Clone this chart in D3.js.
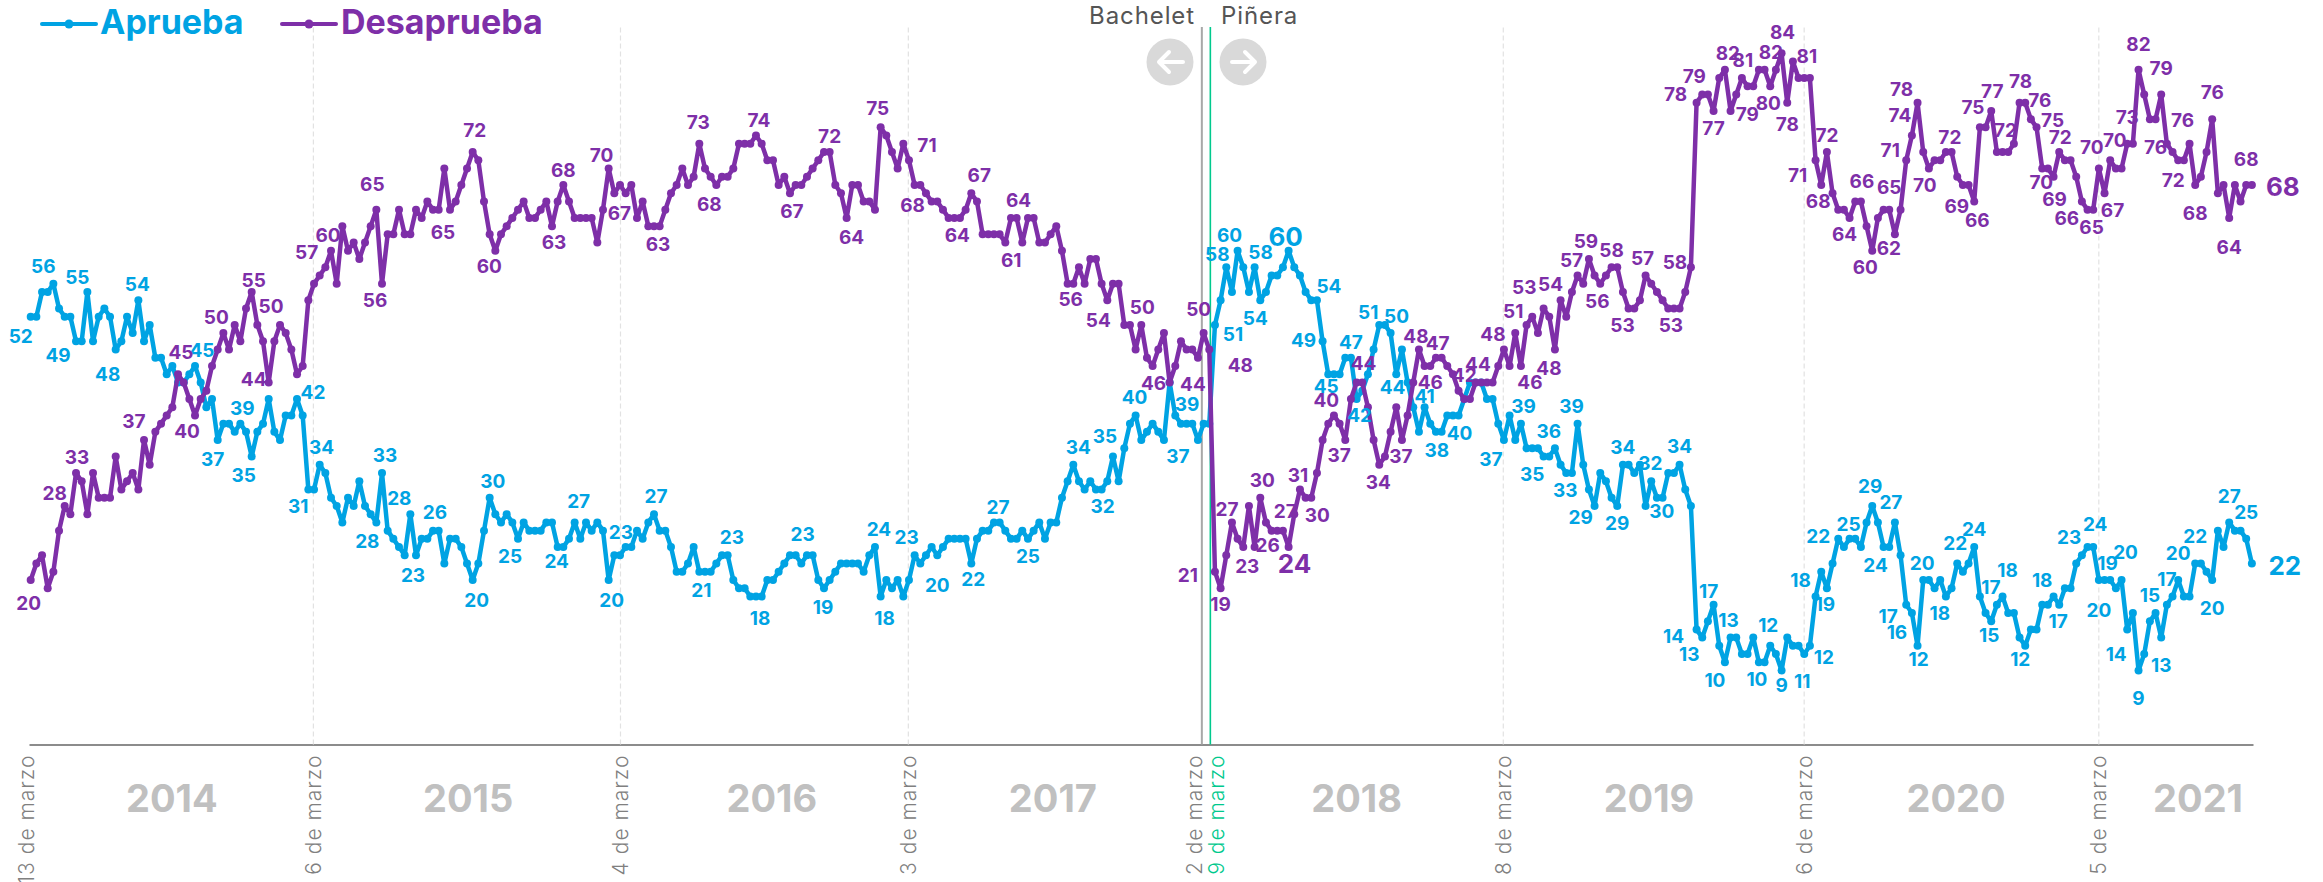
<!DOCTYPE html>
<html>
<head>
<meta charset="utf-8">
<script src="https://cdn.jsdelivr.net/npm/d3@7"></script>
<style>
  html, body { margin: 0; padding: 0; background: #fff; overflow: hidden; }
  text { font-family: Inter, "Open Sans", sans-serif; }
</style>
</head>
<body>
<script>
// weekly poll, one value per week (13 marzo 2014 -> 2021)
var aprueba = [
  52,52,55,55,56,53,52,52,49,49, 55,49,52,53,52,48,49,52,50,54,
  49,51,47,47,45,46,44,44,45,46, 44,41,42,37,39,39,38,39,38,35,
  38,39,42,38,37,40,40,42,40,31, 31,34,33,30,29,27,30,29,32,29,
  28,27,33,26,25,24,23,28,23,25, 25,26,26,22,25,25,24,22,20,22,
  26,30,28,27,28,27,25,27,26,26, 26,27,27,24,24,25,27,25,27,26,
  27,26,20,23,23,24,24,26,25,27, 28,26,26,24,21,21,22,24,21,21,
  21,22,23,23,20,19,19,18,18,18, 20,20,21,22,23,23,22,23,23,20,
  19,20,21,22,22,22,22,21,23,24, 18,20,19,20,18,20,23,22,23,24,
  23,24,25,25,25,25,22,25,26,26, 27,27,26,25,25,26,25,26,27,25,
  27,27,30,32,34,32,31,32,31,31, 32,35,32,36,39,40,37,38,39,38,
  37,44,40,39,39,39,37,39,39,51, 54,58,55,60,58,55,58,54,55,57,
  57,58,60,58,57,55,54,54,49,45, 45,45,47,47,42,43,45,48,51,51,
  50,45,48,44,41,38,41,39,38,38, 40,40,40,42,44,44,44,42,42,39,
  37,40,37,39,36,36,36,35,35,36, 34,33,33,39,34,31,29,33,32,30,
  29,34,34,33,34,29,32,30,30,33, 33,34,31,29,14,13,15,17,12,10,
  13,13,11,11,13,10,10,12,11,9, 13,12,12,11,12,18,21,19,22,25,
  24,25,25,24,27,29,27,24,24,27, 23,17,16,12,20,20,19,20,18,19,
  22,21,22,24,18,16,15,17,18,16, 16,13,12,14,14,17,17,18,17,19,
  19,22,23,24,24,20,20,20,19,20, 14,16,9,11,15,16,13,17,18,20,
  18,18,22,22,21,20,26,24,27,26, 26,25,22
]

var desaprueba = [
  20,22,23,19,21,26,29,28,33,32, 28,33,30,30,30,35,31,32,33,31,
  37,34,38,39,40,41,45,44,42,40, 42,43,46,48,50,48,51,49,53,55,
  51,49,44,49,51,50,48,45,46,54, 56,57,58,60,56,63,60,61,59,61,
  63,65,56,62,62,65,62,62,65,64, 66,65,65,70,65,66,68,70,72,71,
  66,62,60,62,63,64,65,66,64,64, 65,66,63,66,68,66,64,64,64,64,
  61,65,70,67,68,67,68,64,66,63, 63,63,65,67,68,70,68,69,73,70,
  69,68,69,69,70,73,73,73,74,73, 71,71,68,69,67,68,68,69,70,71,
  72,72,68,67,64,68,68,66,66,65, 75,74,72,70,73,71,68,68,67,66,
  66,65,64,64,64,65,67,66,62,62, 62,62,61,64,64,61,64,64,61,61,
  62,63,60,56,56,58,56,59,59,56, 54,56,56,51,51,48,51,47,46,48,
  50,44,46,49,48,48,47,50,48,21, 19,23,27,25,24,29,24,30,27,26,
  26,26,24,28,31,30,30,33,37,39, 40,39,37,42,44,44,41,37,34,35,
  38,41,37,40,44,48,46,46,47,47, 46,45,43,42,42,44,44,44,44,46,
  48,46,50,46,51,52,50,53,52,48, 54,52,55,57,56,59,57,56,57,58,
  58,55,53,53,54,57,56,55,54,53, 53,53,55,58,78,79,79,77,81,82,
  77,79,81,80,80,82,82,80,82,84, 78,83,81,81,81,71,68,72,67,65,
  65,64,66,66,63,60,64,65,65,62, 65,71,74,78,72,70,71,71,72,72,
  69,68,68,66,75,75,77,72,72,72, 73,78,78,76,75,70,70,69,72,71,
  71,69,66,65,65,70,67,71,70,70, 73,73,82,79,76,76,79,73,72,71,
  71,73,68,69,72,76,67,68,64,68, 66,68,68
]

// week index of each printed number, and the number as printed
var aprLabelWeek = [0,4,10,8,15,19,29,33,39,37,47,51,49,62,61,67,68,
  71,78,81,86,93,96,104,102,110,118,122,128,135,
  140,149,150,156,160,166,170,176,184,189,191,195,203,200,
  211,213,209,217,216,222,227,228,229,233,234,238,240,243,246,248,252,260,261,
  265,269,271,273,276,280,281,286,287,291,294,295,297,300,299,305,307,309,313,314,315,317,319,321,327,325,329,331,332,
  333,334,338,340,343,344,346,348,352,355,358,361,364,366,369,365,370,372,376,374,377,379,382,385,388,391,392]
var aprLabelText = [52,56,55,49,48,54,45,37,35,39,42,34,31,33,28,28,23,
  26,20,30,25,24,27,23,20,27,21,23,18,23,
  19,24,18,23,20,22,27,25,34,32,35,40,39,37,
  58,60,51,54,58,60,54,49,45,47,42,51,50,44,41,38,40,37,39,
  35,36,33,39,29,29,34,32,30,34,14,13,17,13,10,10,12,9,11,12,18,19,22,25,24,29,27,17,16,
  12,20,18,22,24,17,15,18,12,18,17,23,24,19,20,20,14,9,13,15,17,20,22,20,27,25,22]

var desLabelWeek = [0,6,8,20,26,29,34,39,44,42,51,53,62,61,
  74,78,82,94,92,102,103,110,118,121,128,134,
  141,144,150,156,155,163,166,174,172,183,190,196,198,206,207,
  208,209,210,212,214,217,216,223,222,224,226,229,232,234,238,242,245,247,249,253,257,260,263,262,265,267,269,
  273,275,277,279,282,285,290,293,294,295,297,299,302,301,307,308,309,310,311,315,317,316,321,323,328,329,325,331,332,333,
  335,338,341,343,344,346,348,351,353,354,355,358,357,362,363,365,368,366,370,372,376,381,375,379,382,385,391,388,392]
var desLabelText = [20,28,33,37,45,40,50,55,50,44,57,60,56,65,
  65,72,60,68,63,70,67,63,73,68,74,67,
  72,64,75,68,71,64,67,64,61,56,54,50,46,44,50,
  48,21,19,27,23,30,26,27,24,31,30,40,37,44,34,37,48,46,47,42,44,48,46,51,53,54,48,
  57,59,56,58,53,57,53,58,78,79,77,82,81,79,80,82,84,78,81,71,72,68,64,66,65,62,60,71,74,78,
  70,72,69,66,75,77,72,78,76,75,70,72,69,66,65,70,70,67,73,82,79,76,76,72,68,76,68,64,68]

var tickWeeks = [-0.8, 49.8, 104, 154.8, 206.6, 208.1, 259.8, 312.9, 364.9]
var tickLabels = ['13 de marzo', '6 de marzo', '4 de marzo', '3 de marzo', '2 de marzo', '9 de marzo', '8 de marzo', '6 de marzo', '5 de marzo']

var yearLabels = ['2014', '2015', '2016', '2017', '2018', '2019', '2020', '2021']
var yearWeeks = [24.9, 77.2, 130.8, 180.4, 234, 285.6, 339.8, 382.5]

// hand placed offsets of the printed numbers from their point, [dx, dy]
var aprLabelOffset = [[-10,20],[-10,-18],[-10,-15],[-18,14],[-8,25],[-1,-16],[7,-16],[-5,19],[-8,19],[2,-15],[16,-7],[2,-18],[-10,17],[3,-18],[-9,19],[-11,-16],[-3,20],
  [2,-18],[4,20],[3,-17],[-8,17],[-1,14],[4,-21],[1,-23],[3,20],[2,-18],[2,18],[10,-18],[4,22],[7,-21],
  [-1,19],[4,-18],[4,22],[-8,-18],[0,30],[2,16],[4,-15],[0,17],[5,-18],[1,17],[-8,-20],[-1,-18],[6,-19],[14,16],
  [-9,-13],[-8,-16],[18,9],[-5,18],[6,-15],[-3,-14],[12,-14],[-19,-1],[-2,12],[0,-16],[3,16],[-11,-13],[6,-17],[-15,5],[0,-11],[1,18],[1,18],[-13,19],[14,-9],
  [0,26],[-6,-17],[-1,17],[-6,-17],[-14,11],[0,17],[0,-18],[-1,-18],[5,13],[0,-19],[-23,7],[-13,17],[-5,-14],[-2,-17],[-10,18],[-2,17],[-2,-21],[0,15],[-2,27],[14,11],[-15,-16],[-2,16],[-20,-3],[-1,-15],[-8,18],[-2,-20],[-4,-20],[-18,11],[-15,19],
  [1,13],[-1,-17],[-6,17],[-2,-20],[0,-18],[11,-9],[-2,14],[5,-26],[-5,13],[0,-25],[-1,16],[-7,-26],[2,-23],[3,-17],[4,-28],[0,30],[-11,25],[0,28],[0,28],[0,-26],[0,-26],[0,-27],[0,-27],[0,28],[0,-26],[0,-27],[33,2]]

var desLabelOffset = [[-2,23],[-10,-13],[1,-16],[-10,-19],[3,-22],[-8,16],[-7,-16],[2,-12],[-9,-19],[-15,-3],[-13,-23],[-3,-16],[-7,16],[-4,-26],
  [-7,22],[2,-22],[-6,15],[0,-15],[2,16],[-7,-13],[5,20],[4,18],[-1,-22],[-7,19],[3,-15],[2,18],
  [0,-16],[5,19],[-3,-19],[-2,20],[18,-15],[3,17],[8,-18],[2,-18],[6,18],[3,15],[-9,20],[1,-18],[1,17],[-5,26],[-5,-24],
  [31,16],[-27,3],[0,16],[-5,-13],[4,19],[2,-18],[13,-2],[-9,-3],[6,17],[-2,-14],[6,17],[-2,-23],[-6,15],[7,-19],[-1,17],[-1,16],[-3,-13],[0,16],[-4,-15],[0,-24],[-9,-18],[-11,-15],[9,16],[-2,-22],[-8,-29],[7,-24],[-6,19],
  [-6,-15],[-3,-18],[-3,17],[0,-17],[-6,17],[-3,-17],[-3,17],[-16,-5],[-21,-9],[-8,-18],[0,17],[3,-17],[1,-18],[11,20],[-2,17],[-5,-18],[1,-21],[0,21],[14,-5],[-18,15],[0,-17],[-3,16],[-5,16],[1,-20],[0,-23],[-6,14],[-7,16],[-16,-10],[-12,-20],[-16,-14],
  [-4,17],[4,-15],[-6,21],[3,19],[-7,-20],[1,-20],[3,-22],[1,-22],[9,-19],[16,-7],[-1,14],[1,-15],[1,22],[-15,17],[4,17],[-7,-21],[-1,-28],[8,17],[0,-27],[0,-26],[0,-26],[-7,-24],[0,28],[-5,20],[0,28],[0,-27],[0,-26],[0,29],[31,2]]

var bigLabels = {apr: [222, 392], des: [222, 392]}

var blue = '#00a3e3',
  purple = '#7e2fa8',
  green = '#00c98d'

var width = 2323,
  height = 882,
  axisY = 744.6

var x = d3.scaleLinear().domain([-0.3, 392.2]).range([29, 2253])
var y = d3.scaleLinear().domain([0, 84]).range([axisY, 53.3])

var svg = d3.select('body').append('svg')
  .attr('width', width)
  .attr('height', height)
  .style('display', 'block')

// axis, the ticks double as the vertical guides
var axis = svg.append('g')
  .attr('transform', 'translate(0,' + axisY + ')')
  .call(d3.axisBottom(x)
    .tickValues(tickWeeks)
    .tickFormat(function (d, i) { return tickLabels[i] })
    .tickSize(-(axisY - 27))
    .tickSizeOuter(0))

axis.select('.domain')
  .attr('stroke', '#8c8c8c')
  .attr('stroke-width', 2)

axis.selectAll('.tick line')
  .attr('stroke', function (d, i) { return i === 4 ? '#a8a8a8' : i === 5 ? green : '#e2e2e2' })
  .attr('stroke-width', function (d, i) { return i === 4 ? 2 : i === 5 ? 1.6 : 1.2 })
  .attr('stroke-dasharray', function (d, i) { return i === 4 || i === 5 ? null : '5,3' })
  .attr('display', function (d, i) { return i === 0 ? 'none' : null })

axis.selectAll('.tick text')
  .attr('transform', function (d, i) {
    var shift = i === 4 ? -7 : i === 5 ? 6 : 0
    return 'translate(' + shift + ',10) rotate(-90)'
  })
  .attr('x', 0)
  .attr('y', 0)
  .attr('dy', '.35em')
  .attr('text-anchor', 'end')
  .style('font-size', '21px')
  .style('font-weight', 300)
  .style('font-family', 'Inter, sans-serif')
  .style('letter-spacing', '1px')
  .attr('fill', function (d, i) { return i === 5 ? green : '#808080' })

svg.append('g').selectAll('text')
  .data(yearLabels)
  .enter().append('text')
  .attr('x', function (d, i) { return x(yearWeeks[i]) })
  .attr('y', 812)
  .attr('text-anchor', 'middle')
  .style('font-size', '38px')
  .style('font-weight', 700)
  .attr('fill', '#c0c0c0')
  .text(function (d) { return d })

// government change marks
svg.append('text').attr('x', 1195).attr('y', 24).attr('text-anchor', 'end')
  .style('font-size', '24px').style('letter-spacing', '0.9px').attr('fill', '#555').text('Bachelet')
svg.append('text').attr('x', 1221).attr('y', 24)
  .style('font-size', '24px').style('letter-spacing', '0.9px').attr('fill', '#555').text('Piñera')

var buttons = [
  {cx: 1170, arrow: 'M1183,62H1159M1169,52L1159,62L1169,72'},
  {cx: 1243, arrow: 'M1232,62H1255M1245,52L1255,62L1245,72'}
]
var btn = svg.append('g').selectAll('g').data(buttons).enter().append('g')
btn.append('circle')
  .attr('cx', function (d) { return d.cx })
  .attr('cy', 62)
  .attr('r', 23.5)
  .attr('fill', '#d9d9d9')
btn.append('path')
  .attr('d', function (d) { return d.arrow })
  .attr('fill', 'none')
  .attr('stroke', '#fff')
  .attr('stroke-width', 4)
  .attr('stroke-linecap', 'round')
  .attr('stroke-linejoin', 'round')

var line = d3.line()
  .x(function (d, i) { return x(i) })
  .y(function (d) { return y(d) })

function drawSeries (values, color) {
  var g = svg.append('g')
  g.append('path')
    .datum(values)
    .attr('d', line)
    .attr('fill', 'none')
    .attr('stroke', color)
    .attr('stroke-width', 4.5)
    .attr('stroke-linejoin', 'round')
  g.selectAll('circle')
    .data(values)
    .enter().append('circle')
    .attr('cx', function (d, i) { return x(i) })
    .attr('cy', function (d) { return y(d) })
    .attr('r', 4)
    .attr('fill', color)
}

function drawLabels (values, weeks, texts, offsets, big, color) {
  svg.append('g').selectAll('text')
    .data(weeks)
    .enter().append('text')
    .attr('x', function (d, i) { return x(d) + offsets[i][0] })
    .attr('y', function (d, i) { return y(values[d]) + offsets[i][1] })
    .attr('dy', '.36em')
    .attr('text-anchor', 'middle')
    .style('font-size', function (d) { return big.indexOf(d) >= 0 ? '26px' : '19px' })
    .style('font-weight', 700)
    .attr('fill', color)
    .text(function (d, i) { return texts[i] })
}

drawSeries(aprueba, blue)
drawSeries(desaprueba, purple)
drawLabels(aprueba, aprLabelWeek, aprLabelText, aprLabelOffset, bigLabels.apr, blue)
drawLabels(desaprueba, desLabelWeek, desLabelText, desLabelOffset, bigLabels.des, purple)

// legend
var legendItems = [
  {name: 'Aprueba', color: blue, x1: 42, x2: 96, tx: 100},
  {name: 'Desaprueba', color: purple, x1: 282, x2: 336, tx: 341}
]
var legend = svg.append('g').selectAll('g').data(legendItems).enter().append('g')
legend.append('line')
  .attr('x1', function (d) { return d.x1 })
  .attr('x2', function (d) { return d.x2 })
  .attr('y1', 24)
  .attr('y2', 24)
  .attr('stroke', function (d) { return d.color })
  .attr('stroke-width', 4)
  .attr('stroke-linecap', 'round')
legend.append('circle')
  .attr('cx', function (d) { return (d.x1 + d.x2) / 2 })
  .attr('cy', 24)
  .attr('r', 4.5)
  .attr('fill', function (d) { return d.color })
legend.append('text')
  .attr('x', function (d) { return d.tx })
  .attr('y', 34)
  .style('font-size', '34px')
  .style('font-weight', 700)
  .attr('fill', function (d) { return d.color })
  .text(function (d) { return d.name })
</script>
</body>
</html>
